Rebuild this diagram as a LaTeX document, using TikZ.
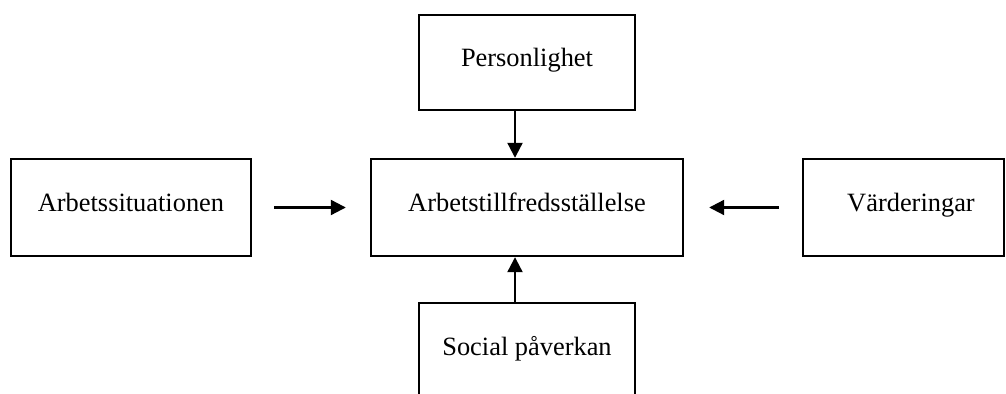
\documentclass[tikz,border=0pt]{standalone}
\usepackage{fontspec}
\setmainfont{Liberation Serif}
\usetikzlibrary{arrows.meta}
\begin{document}
\begin{tikzpicture}[x=0.5pt, y=-0.5pt,
    box/.style={draw, line width=1.2pt, minimum height=48.5pt, inner sep=0pt,
        text height=9pt, text depth=4.5pt, font=\fontsize{13.2}{16}\selectfont},
    arr/.style={-{Triangle[length=7.5pt, width=7.5pt]}, line width=1.1pt}]
    % Frame
    \useasboundingbox (0, 0) rectangle (1006, 394);
    \clip (0, 0) rectangle (1006, 394);

    % Boxes
    \node[box, minimum width=120pt] (situation) at (131, 207.5) {Arbetssituationen};
    \node[box, minimum width=156pt] (tillfreds) at (527, 207.5) {Arbetstillfredsställelse};
    \node[box, minimum width=100.5pt] (varden) at (903.5, 207.5) {\hspace*{7.5pt}Värderingar};
    \node[box, minimum width=108pt, minimum height=47.5pt] (person) at (527, 62.5) {Personlighet};
    \node[box, minimum width=108pt] (social) at (527, 351.5) {Social påverkan};

    % Arrows
    \draw[arr, shorten <=11pt, shorten >=12pt] (situation) -- (tillfreds);
    \draw[arr, shorten <=11.5pt, shorten >=12.5pt] (varden) -- (tillfreds);
    \draw[arr] ([xshift=-6pt]person.south) -- ([xshift=-6pt]tillfreds.north);
    \draw[arr] ([xshift=-6pt]social.north) -- ([xshift=-6pt]tillfreds.south);

\end{tikzpicture}
\end{document}
